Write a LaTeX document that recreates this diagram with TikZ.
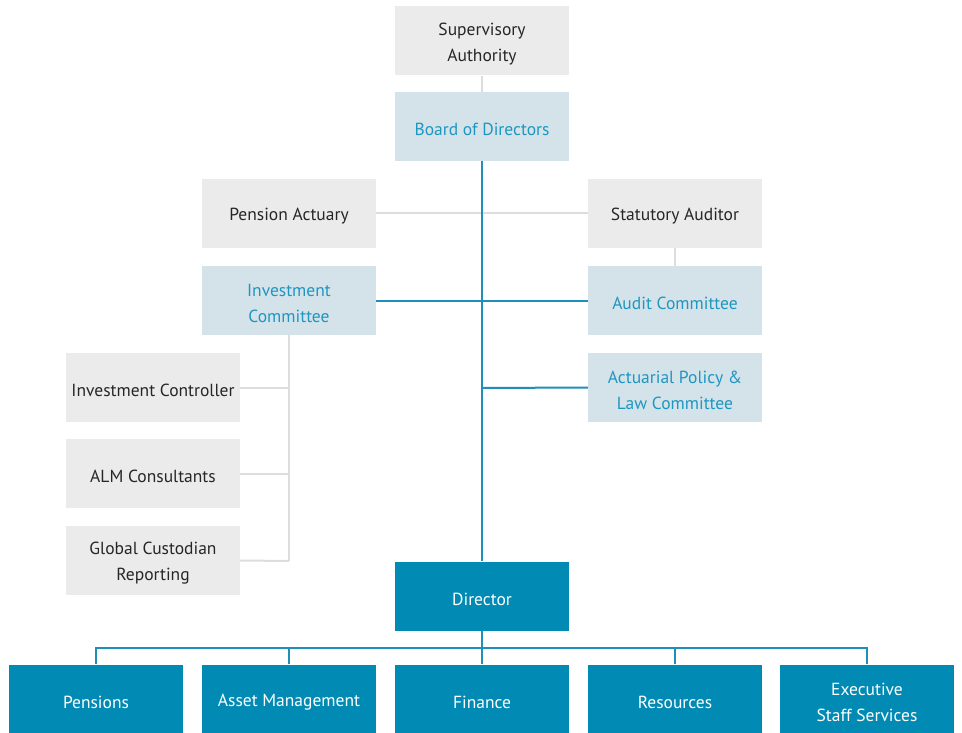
\documentclass[tikz,border=0pt]{standalone}
\usepackage{fontspec}
\setmainfont{PT Sans}
\definecolor{boxgray}{HTML}{EBEBEB}
\definecolor{boxlight}{HTML}{D4E3EA}
\definecolor{txtblue}{HTML}{1E96C0}
\definecolor{boxdark}{HTML}{008AB4}
\definecolor{lngray}{HTML}{DDDDDD}
\definecolor{lnblue}{HTML}{1E8FBA}
\begin{document}
\begin{tikzpicture}[x=1pt,y=-1pt,
  base/.style={minimum width=174pt,minimum height=69pt,inner sep=0pt},
  txt/.style={align=center,font=\fontsize{17.5}{26}\selectfont,inner sep=0pt,shift={(0,3)}},
  graybox/.style={base,fill=boxgray,label={[txt,text=black!85]center:#1}},
  lightbox/.style={base,fill=boxlight,label={[txt,text=txtblue]center:#1}},
  darkbox/.style={base,fill=boxdark,label={[txt,text=white]center:#1}},
  gline/.style={draw=lngray,line width=2pt},
  bline/.style={draw=lnblue,line width=2pt}]
\useasboundingbox (0,0) rectangle (962,733);
\coordinate (lbus) at (96,648);
\coordinate (rbus) at (867,648);
\coordinate (icbot) at (289,561);
\coordinate (apj) at (482,388);
% nodes
\node[graybox={Supervisory\\Authority}] (sup) at (482,41) {};
\node[lightbox={Board of Directors}] (board) at (482,126.5) {};
\node[graybox={Pension Actuary}] (pa) at (289,213.5) {};
\node[graybox={Statutory Auditor}] (sa) at (675,213.5) {};
\node[lightbox={Investment\\Committee}] (ic) at (289,300.5) {};
\node[lightbox={Audit Committee}] (ac) at (675,300.5) {};
\node[lightbox={Actuarial Policy \&\\Law Committee}] (ap) at (675,387.5) {};
\node[graybox={Investment Controller}] (ictrl) at (153,387.5) {};
\node[graybox={ALM Consultants}] (alm) at (153,473.5) {};
\node[graybox={Global Custodian\\Reporting}] (gc) at (153,560.5) {};
\node[darkbox={Director}] (dir) at (482,596) {};
\node[darkbox={Pensions}] (pen) at (96,699) {};
\node[darkbox={Asset Management}] (am) at (289,699) {};
\node[darkbox={Finance}] (fin) at (482,699) {};
\node[darkbox={Resources}] (res) at (675,699) {};
\node[darkbox={Executive\\Staff Services}] (ess) at (867,699) {};
% gray connectors
\draw[gline] (sup.south) -- (board.north);
\draw[gline] (pa.east) -- (sa.west);
\draw[gline] (sa.south) -- (ac.north);
\draw[gline] (ic.south) -- (icbot);
\draw[gline] (ictrl.east) -- (ictrl.east -| icbot);
\draw[gline] (alm.east) -- (alm.east -| icbot);
\draw[gline] (gc.east) -- (icbot);
% blue connectors
\draw[bline] (board.south) -- (dir.north);
\draw[bline] (ic.east) -- (ac.west);
\draw[bline] (apj) -- (ap.west);
\draw[bline] (dir.south) -- (fin.north);
\draw[bline] (pen.north) -- (lbus) -- (rbus) -- (ess.north);
\draw[bline] (am.north) -- (am.north |- lbus);
\draw[bline] (res.north) -- (res.north |- lbus);
\end{tikzpicture}
\end{document}
